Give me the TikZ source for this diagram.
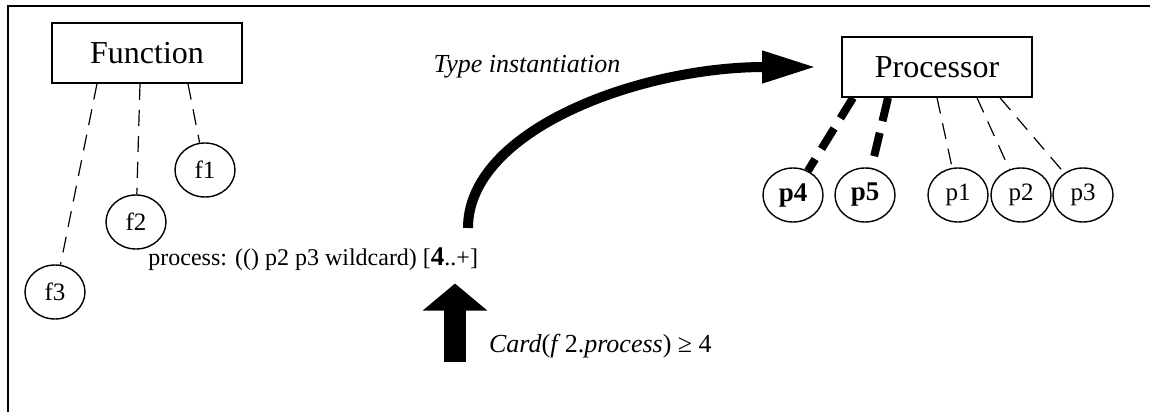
\documentclass[tikz,border=0pt]{standalone}
\usepackage{fontspec}
\setmainfont{Liberation Serif}
\usetikzlibrary{shapes.geometric,arrows.meta,calc}

\tikzset{
  classbox/.style={draw, line width=0.8pt, minimum width=95pt, minimum height=30pt,
    font=\fontsize{16}{19}\selectfont},
  inst/.style={draw, ellipse, line width=0.7pt, minimum width=30pt, minimum height=27pt,
    inner sep=0pt, font=\fontsize{12.5}{14}\selectfont},
  link/.style={line width=0.6pt, dash pattern=on 8pt off 5pt},
  boldlink/.style={line width=4pt, dash pattern=on 12pt off 6pt},
}

\begin{document}
\begin{tikzpicture}[x=0.5pt, y=-0.5pt]
\useasboundingbox (0,0) rectangle (1150,412);
% frame, top and left edges
\draw[line width=1pt] (1150,6) -- (8,6) -- (8,412);

% Function and its instances
\node[classbox] (func) at (147,53) {Function};
\foreach \n/\x/\y in {1/205/170, 2/136/222, 3/55/292}
  \node[inst] (f\n) at (\x,\y) {f\n};
\foreach \n/\dx in {1/41, 2/-7, 3/-50}
  \draw[link] ($(func.south)+(\dx,0)$) -- (f\n);

\node[anchor=base west, inner sep=0pt, font=\fontsize{12}{14}\selectfont] (spec) at (148,265)
  {process: (() p2 p3 wildcard) [{\fontsize{13.5}{14}\selectfont\bfseries 4}..+]};

% Processor and its instances
\node[classbox] (cpu) at (937,67) {Processor};
\foreach \n/\x in {4/793, 5/865}
  \node[inst, font=\fontsize{13.5}{15}\selectfont\bfseries] (p\n) at (\x,195) {p\n};
\foreach \n/\x in {1/958, 2/1021, 3/1083}
  \node[inst] (p\n) at (\x,195) {p\n};
\foreach \n/\dx in {4/-84, 5/-49}
  \draw[boldlink] ($(cpu.south)+(\dx,0)$) -- (p\n);
\foreach \n/\dx in {1/0, 2/40, 3/63}
  \draw[link] ($(cpu.south)+(\dx,0)$) -- (p\n);

% instantiation arrow
\node[anchor=base, font=\fontsize{13}{15}\selectfont\itshape] (instlabel) at (527,72) {Type instantiation};
\coordinate (bendfoot) at (468,228);
\draw[line width=5pt, -{Triangle[length=27pt, width=15pt]}]
  (bendfoot) .. controls +(0,-98) and +(-177,0) .. ($(cpu.west)+(-25,0)$);

% cardinality constraint
\coordinate (cardfoot) at (455,362);
\draw[line width=11pt, -{Triangle[length=13.5pt, width=31.5pt]}, shorten >=6.5pt]
  (cardfoot) -- (cardfoot |- spec.south);
\node[anchor=base west, font=\fontsize{13}{15}\selectfont] (card) at (482,352)
  {\textit{Card}(\textit{f}\,2.\textit{process}) ≥ 4};
\end{tikzpicture}
\end{document}
